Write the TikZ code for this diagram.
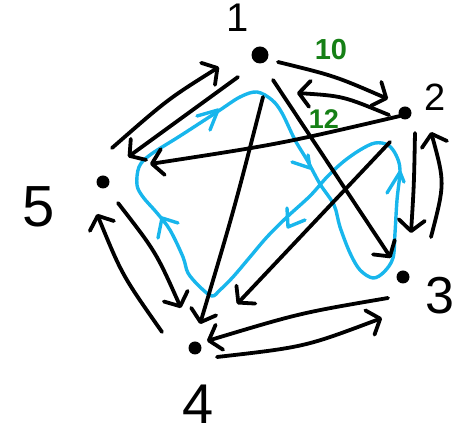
\documentclass[tikz,border=0pt]{standalone}
\usepackage{fontspec}
\setmainfont{Liberation Sans}
\usetikzlibrary{arrows.meta,calc}
\definecolor{penblue}{RGB}{24,182,236}
\definecolor{pengreen}{RGB}{22,128,22}
\tikzset{
  dot/.style={circle,fill=black,inner sep=0pt,minimum size=#1},
  lbl/.style={font=\fontsize{#1}{#1}\selectfont,inner sep=0pt},
  wgt/.style={font=\fontsize{#1}{#1}\selectfont\bfseries,text=pengreen,inner sep=0pt},
  arr/.style={line width=3.8pt,line cap=round,line join=round,
     -{Straight Barb[length=11pt,width=26pt,round]}},
  loop/.style={line width=3.4pt,penblue,line cap=round,line join=round},
  loopmark/.style={line width=3.4pt,penblue,line cap=round,line join=round}
}
\begin{document}
\begin{tikzpicture}[x=1pt,y=-1pt]
\useasboundingbox (0,0) rectangle (459,435);
% vertices
\node[dot=17pt] (n1) at (260,55) {};
\node[dot=13pt] (n2) at (405,113) {};
\node[dot=13pt] (n3) at (403,277) {};
\node[dot=13pt] (n4) at (195,348) {};
\node[dot=13pt] (n5) at (103,182) {};
% labels
\node[lbl=40] (l1) at (238,18) {1};
\node[lbl=38] (l2) at (435,97) {2};
\node[lbl=52] (l3) at (440,296) {3};
\node[lbl=56] (l4) at (198,404) {4};
\node[lbl=58] (l5) at (39,207) {5};
\node[wgt=29] (w10) at (331,50) {10};
\node[wgt=27] (w12) at (324,119) {12};
% blue closed walk
\draw[loop] plot[smooth cycle,tension=0.55] coordinates {
 (257,92) (272,100) (282,113) (295,140) (307,160) (320,184) (334,205)
 (340,227) (350,253) (360,270) (373,278) (384,272) (393,258) (395,233)
 (397,200) (400,170) (396,155) (388,145) (375,143) (360,150) (343,162)
 (327,177) (310,196) (287,217) (267,237) (250,257) (233,277) (220,290)
 (212,296) (200,287) (188,273) (183,257) (170,230) (157,213) (143,197)
 (137,185) (139,167) (150,155) (180,136) (217,112) (240,97)};
\draw[loopmark] (197,116) -- (218,110) -- (210,130);
\draw[loopmark] (292,162) -- (310,168) -- (308,155);
\draw[loopmark] (387,193) -- (400,172) -- (404,182);
\draw[loopmark] (287,208) -- (288,227) -- (305,220);
\draw[loopmark] (158,238) -- (162,218) -- (178,223);
% directed edges
\draw[arr] ($(n1)+(18,7)$) .. controls (335,76) .. ($(n2)+(-17,-14)$);
\draw[arr] ($(n2)+(-16,2)$) .. controls (343,96) .. ($(n1)+(37,38)$);
\draw[arr] ($(n2)+(-5,3)$) .. controls (280,144) .. ($(n5)+(47,-18)$);
\draw[arr] ($(n1)+(-22,22)$) -- ($(n5)+(25,-25)$);
\draw[arr] ($(n5)+(9,-34)$) .. controls (168,99) .. ($(n1)+(-41,12)$);
\draw[arr] ($(n1)+(13,25)$) -- ($(n3)+(-12,-19)$);
\draw[arr] ($(n1)+(3,42)$) .. controls (234,210) .. ($(n4)+(5,-24)$);
\draw[arr] ($(n2)+(-15,29)$) -- ($(n4)+(42,-44)$);
\draw[arr] ($(n2)+(10,20)$) .. controls (414,185) .. ($(n3)+(8,-44)$);
\draw[arr] ($(n3)+(28,-40)$) .. controls (445,183) .. ($(n2)+(26,19)$);
\draw[arr] ($(n3)+(-15,21)$) .. controls (300,313) .. ($(n4)+(12,-7)$);
\draw[arr] ($(n4)+(22,9)$) .. controls (305,347) .. ($(n3)+(-21,41)$);
\draw[arr] ($(n4)+(-33,-16)$) .. controls (122,275) .. ($(n5)+(-6,32)$);
\draw[arr] ($(n5)+(15,21)$) .. controls (156,252) .. ($(n4)+(-14,-40)$);
\end{tikzpicture}
\end{document}
